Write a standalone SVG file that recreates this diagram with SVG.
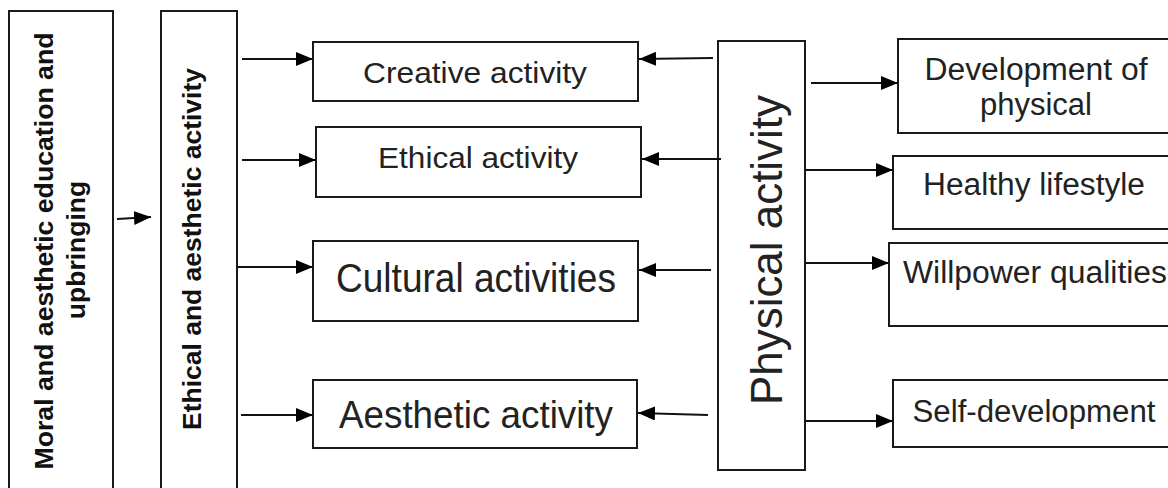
<svg xmlns="http://www.w3.org/2000/svg" width="1168" height="488" viewBox="0 0 1168 488">
<style>
.box{fill:#fff;stroke:#1a1a1a;stroke-width:2}
.t{font-family:"Liberation Sans",Arial,sans-serif;fill:#222;text-anchor:middle}
.b{font-family:"Liberation Sans",Arial,sans-serif;font-weight:bold;fill:#111;text-anchor:middle;font-size:26.5px}
.c line{stroke:#111;stroke-width:1.8;fill:none}
</style>
<defs>
<marker id="ah" viewBox="0 0 17 14" refX="17" refY="7" markerWidth="17" markerHeight="14" markerUnits="userSpaceOnUse" orient="auto">
<path d="M0,0 L17,7 L0,14 Z" fill="#000"/>
</marker>
</defs>
<rect width="1168" height="488" fill="#fff"/>
<g id="moral">
<rect class="box" x="9" y="11" width="104" height="490"/>
<text class="b" transform="translate(53,251) rotate(-90)" textLength="437" lengthAdjust="spacingAndGlyphs">Moral and aesthetic education and</text>
<text class="b" transform="translate(85,250) rotate(-90)">upbringing</text>
</g>
<g id="ethical-aesthetic">
<rect class="box" x="161" y="11" width="76" height="490"/>
<text class="b" transform="translate(201,249) rotate(-90)" textLength="362" lengthAdjust="spacingAndGlyphs">Ethical and aesthetic activity</text>
</g>
<g id="creative">
<rect class="box" x="313" y="42" width="325" height="59"/>
<text class="t" x="475" y="83" font-size="30" textLength="224" lengthAdjust="spacingAndGlyphs">Creative activity</text>
</g>
<g id="ethical">
<rect class="box" x="316" y="127" width="325" height="70"/>
<text class="t" x="478" y="168" font-size="30" textLength="200" lengthAdjust="spacingAndGlyphs">Ethical activity</text>
</g>
<g id="cultural">
<rect class="box" x="313" y="241" width="325" height="80"/>
<text class="t" x="476" y="292" font-size="41" textLength="280" lengthAdjust="spacingAndGlyphs">Cultural activities</text>
</g>
<g id="aesthetic">
<rect class="box" x="313" y="380" width="324" height="68"/>
<text class="t" x="476" y="428" font-size="39" textLength="274" lengthAdjust="spacingAndGlyphs">Aesthetic activity</text>
</g>
<g id="physical">
<rect class="box" x="718" y="41" width="87" height="429"/>
<text class="t" transform="translate(782,250) rotate(-90)" font-size="44" textLength="310" lengthAdjust="spacingAndGlyphs">Physical activity</text>
</g>
<g id="development">
<rect class="box" x="898" y="39" width="280" height="94"/>
<text class="t" x="1036" y="80" font-size="31" textLength="223" lengthAdjust="spacingAndGlyphs">Development of</text>
<text class="t" x="1036" y="115" font-size="31">physical</text>
</g>
<g id="healthy">
<rect class="box" x="893" y="156" width="285" height="73"/>
<text class="t" x="1034" y="195" font-size="31" textLength="222" lengthAdjust="spacingAndGlyphs">Healthy lifestyle</text>
</g>
<g id="willpower">
<rect class="box" x="889" y="243" width="289" height="83"/>
<text class="t" x="1035" y="283" font-size="31" textLength="264" lengthAdjust="spacingAndGlyphs">Willpower qualities</text>
</g>
<g id="selfdev">
<rect class="box" x="893" y="380" width="285" height="67"/>
<text class="t" x="1034" y="422" font-size="31" textLength="243" lengthAdjust="spacingAndGlyphs">Self-development</text>
</g>
<g id="connectors" class="c">
<line x1="117" y1="219" x2="151" y2="217" marker-end="url(#ah)"/>
<line x1="242" y1="59" x2="313" y2="59" marker-end="url(#ah)"/>
<line x1="242" y1="160" x2="316" y2="160" marker-end="url(#ah)"/>
<line x1="237" y1="267" x2="313" y2="267" marker-end="url(#ah)"/>
<line x1="241" y1="415" x2="313" y2="415" marker-end="url(#ah)"/>
<line x1="713" y1="58" x2="639" y2="59" marker-end="url(#ah)"/>
<line x1="721" y1="159" x2="642" y2="159" marker-end="url(#ah)"/>
<line x1="711" y1="270" x2="639" y2="270" marker-end="url(#ah)"/>
<line x1="708" y1="415" x2="638" y2="413" marker-end="url(#ah)"/>
<line x1="811" y1="83" x2="898" y2="83" marker-end="url(#ah)"/>
<line x1="805" y1="170" x2="893" y2="170" marker-end="url(#ah)"/>
<line x1="805" y1="263" x2="889" y2="263" marker-end="url(#ah)"/>
<line x1="805" y1="421" x2="893" y2="421" marker-end="url(#ah)"/>
</g>
</svg>
